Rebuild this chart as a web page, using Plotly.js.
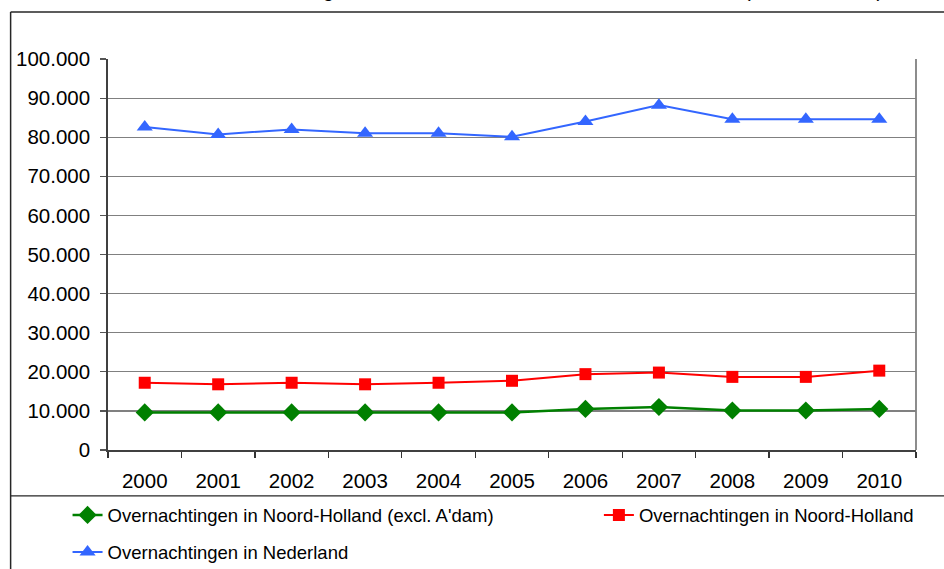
<!DOCTYPE html>
<html>
<head>
<meta charset="utf-8">
<script src="https://cdn.plot.ly/plotly-3.0.1.min.js"></script>
<style>html,body{margin:0;padding:0;background:#fff;}#chart{width:944px;height:569px;}</style>
</head>
<body>
<div id="chart"></div>
<script>
// ---- data ----
var years = ['2000','2001','2002','2003','2004','2005','2006','2007','2008','2009','2010'];
var nhExclAdam = [9600, 9600, 9600, 9600, 9600, 9600, 10500, 11000, 10100, 10100, 10500];
var noordHolland = [17200, 16800, 17200, 16800, 17200, 17700, 19400, 19800, 18700, 18700, 20300];
var nederland = [82600, 80700, 82000, 81000, 81000, 80100, 84000, 88200, 84600, 84600, 84600];
var seriesNames = ["Overnachtingen in Noord-Holland (excl. A'dam)", "Overnachtingen in Noord-Holland", "Overnachtingen in Nederland"];
var yTicks = [0,10000,20000,30000,40000,50000,60000,70000,80000,90000,100000];
var titleText = "Aantal overnachtingen in Noord-Holland en Nederland 2000-2010 (aantal x 1.000)";

// ---- geometry helpers (pixel -> paper) ----
var L = 107.5, R = 916.5, T = 59, B = 450.5, W = 944, H = 569;
function px(x){ return (x - L) / (R - L); }
function py(y){ return (B - y) / (B - T); }

var traces = [
  {x: years, y: nhExclAdam, name: seriesNames[0], type: 'scatter', mode: 'lines+markers',
   line: {color: '#008000', width: 2.5}, marker: {symbol: 'diamond', size: 14, color: '#008000'}, legend: 'legend'},
  {x: years, y: noordHolland, name: seriesNames[1], type: 'scatter', mode: 'lines+markers',
   line: {color: '#FF0000', width: 2}, marker: {symbol: 'square', size: 12, color: '#FF0000'}, legend: 'legend2'},
  {x: years, y: nederland, name: seriesNames[2], type: 'scatter', mode: 'lines+markers',
   line: {color: '#3366FF', width: 2}, marker: {symbol: 'triangle-up', size: 14, color: '#3366FF'}, legend: 'legend3'}
];

var frameColor = '#262626';
var legFont = {size: 18.5, family: 'Liberation Sans, Arial, sans-serif', color: '#000'};
function leg(xp, yp){
  return {orientation: 'h', x: px(xp), xanchor: 'left', y: py(yp), yanchor: 'top',
          font: legFont, bgcolor: 'rgba(0,0,0,0)', borderwidth: 0};
}
var layout = {
  width: W, height: H,
  margin: {l: L, r: W - R, t: T, b: H - B, pad: 0, autoexpand: false},
  paper_bgcolor: '#ffffff', plot_bgcolor: '#ffffff',
  separators: ',.',
  font: {family: 'Liberation Sans, Arial, sans-serif', color: '#000000'},
  showlegend: true,
  xaxis: {
    type: 'category', tickmode: 'array', tickvals: years, ticktext: years,
    range: [-0.5, 10.5], tickson: 'boundaries',
    ticks: 'outside', ticklen: 6, tickwidth: 1.2, tickcolor: '#333333',
    showline: true, linecolor: '#404040', linewidth: 1.8,
    showgrid: false, zeroline: false,
    tickfont: {size: 20.5, family: 'Liberation Sans, Arial, sans-serif', color: '#000'},
    ticklabelstandoff: 12, fixedrange: true
  },
  yaxis: {
    range: [0, 100000], tickmode: 'array', tickvals: yTicks, tickformat: ',d',
    ticks: 'outside', ticklen: 6, tickwidth: 1.2, tickcolor: '#555555',
    showline: true, linecolor: '#404040', linewidth: 1.8,
    showgrid: true, gridcolor: '#808080', gridwidth: 1.2,
    zeroline: false,
    tickfont: {size: 20.5, family: 'Liberation Sans, Arial, sans-serif', color: '#000'},
    ticklabelstandoff: 6, fixedrange: true
  },
  legend: leg(67, 497),
  legend2: leg(599, 497),
  legend3: leg(67, 534),
  shapes: [
    // plot area right border
    {type: 'line', xref: 'paper', yref: 'paper', x0: 1, x1: 1, y0: 0, y1: 1, line: {color: '#808080', width: 1.8}, layer: 'below'},
    // outer chart frame
    {type: 'line', xref: 'paper', yref: 'paper', x0: px(10), x1: px(950), y0: py(12), y1: py(12), line: {color: frameColor, width: 1.5}},
    {type: 'line', xref: 'paper', yref: 'paper', x0: px(10), x1: px(10), y0: py(12), y1: py(580), line: {color: frameColor, width: 1.5}},
    // legend separator
    {type: 'line', xref: 'paper', yref: 'paper', x0: px(10), x1: px(950), y0: py(496.5), y1: py(496.5), line: {color: frameColor, width: 1.2}}
  ],
  annotations: [
    {text: titleText, xref: 'paper', yref: 'paper', x: px(520), xanchor: 'center', y: py(3), yanchor: 'bottom',
     showarrow: false, font: {size: 20, family: 'Liberation Sans, Arial, sans-serif', color: '#000'}}
  ]
};

Plotly.newPlot('chart', traces, layout, {displayModeBar: false, staticPlot: true});
</script>
</body>
</html>
